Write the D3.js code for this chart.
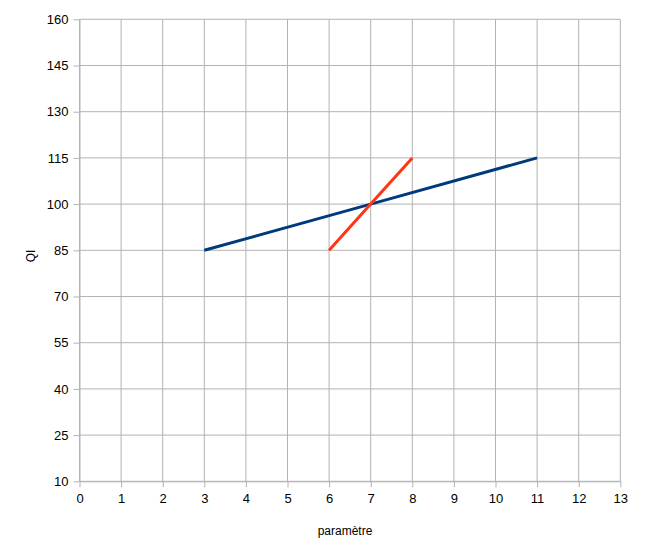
<!DOCTYPE html>
<html>
<head>
<meta charset="utf-8">
<script src="https://d3js.org/d3.v7.min.js"></script>
<style>
  body { margin: 0; background: #fff; }
  svg text { font-family: "Liberation Sans", Arial, sans-serif; fill: #000; }
</style>
</head>
<body>
<div id="chart"></div>
<script>
// Data ------------------------------------------------------------------------
const xTicks = [0, 1, 2, 3, 4, 5, 6, 7, 8, 9, 10, 11, 12, 13];
const yTicks = [10, 25, 40, 55, 70, 85, 100, 115, 130, 145, 160];

const blueX = [3, 7, 11];
const blueY = [85, 100, 115];
const redX = [6, 7, 8];
const redY = [85, 100, 115];

// Canvas ----------------------------------------------------------------------
const canvasWidth = 649;
const canvasHeight = 559;

const leftPadding = 79.5;
const rightPadding = 28.7;
const topPadding = 19.3;
const bottomPadding = 77.7;

const svg = d3.select("#chart")
  .append("svg")
  .attr("width", canvasWidth)
  .attr("height", canvasHeight);

const xScale = d3.scaleLinear()
  .domain([0, 13])
  .range([leftPadding, canvasWidth - rightPadding]);
const yScale = d3.scaleLinear()
  .domain([10, 160])
  .range([canvasHeight - bottomPadding, topPadding]);

// Grid
svg.append("g")
  .selectAll("line")
  .data(xTicks)
  .join("line")
  .attr("x1", d => xScale(d))
  .attr("x2", d => xScale(d))
  .attr("y1", yScale(160))
  .attr("y2", yScale(10))
  .style("stroke", "#b3b3b3")
  .style("stroke-width", 1);

svg.append("g")
  .selectAll("line")
  .data(yTicks)
  .join("line")
  .attr("x1", xScale(0))
  .attr("x2", xScale(13))
  .attr("y1", d => yScale(d))
  .attr("y2", d => yScale(d))
  .style("stroke", "#b3b3b3")
  .style("stroke-width", 1);

// Axes
const xAxis = svg.append("g")
  .attr("transform", "translate(0, " + yScale(10) + ")")
  .call(d3.axisBottom(xScale).tickValues(xTicks).tickSize(6).tickPadding(6).tickSizeOuter(0));
xAxis.selectAll("text").style("font-size", "13px");
xAxis.selectAll("path, line").style("stroke", "#b3b3b3");

const yAxis = svg.append("g")
  .attr("transform", "translate(" + xScale(0) + ", 0)")
  .call(d3.axisLeft(yScale).tickValues(yTicks).tickSize(6).tickPadding(5).tickSizeOuter(0));
yAxis.selectAll("text").style("font-size", "13px");
yAxis.selectAll("path, line").style("stroke", "#b3b3b3");

// Axis titles
svg.append("text")
  .text("paramètre")
  .attr("x", 345)
  .attr("y", 535)
  .style("text-anchor", "middle")
  .style("font-size", "12px");

svg.append("text")
  .text("QI")
  .attr("transform", "translate(35, 256) rotate(-90)")
  .style("text-anchor", "middle")
  .style("font-size", "12px");

// Lines
const line = d3.line()
  .x(d => xScale(d[0]))
  .y(d => yScale(d[1]));

svg.append("path")
  .datum(blueX.map((x, i) => [x, blueY[i]]))
  .attr("d", line)
  .style("fill", "none")
  .style("stroke", "#003a7e")
  .style("stroke-width", 3);

svg.append("path")
  .datum(redX.map((x, i) => [x, redY[i]]))
  .attr("d", line)
  .style("fill", "none")
  .style("stroke", "#ff3614")
  .style("stroke-width", 3);
</script>
</body>
</html>
